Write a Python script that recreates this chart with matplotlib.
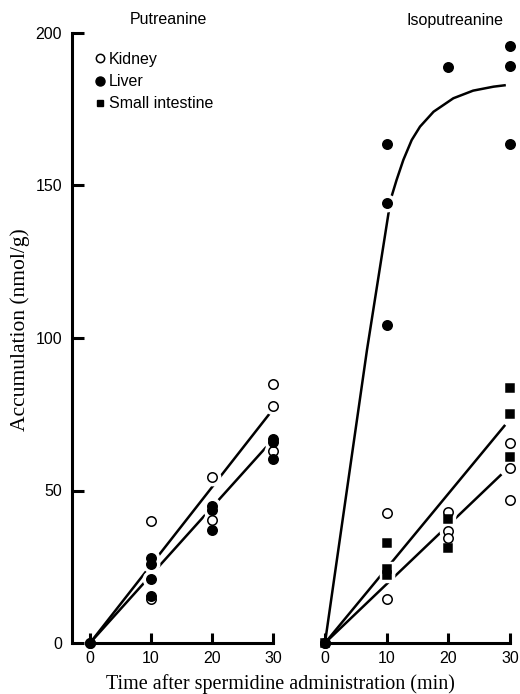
import matplotlib
matplotlib.use('Agg')
import matplotlib.pyplot as plt

# Putreanine panel
put_kidney_x = [0, 10, 10, 20, 20, 30, 30, 30]
put_kidney_y = [0, 40.1, 14.4, 54.3, 40.3, 84.9, 77.7, 63.0]
put_liver_x = [0, 10, 10, 10, 10, 20, 20, 20, 30, 30, 30]
put_liver_y = [0, 27.8, 25.9, 21.1, 15.4, 45.0, 43.6, 37.0, 67.0, 66.0, 60.3]
put_kidney_fit = ([0, 29.7], [0, 75.8])
put_liver_fit = ([0, 29.7], [0, 66.0])

# Isoputreanine panel
iso_kidney_x = [0, 10, 10, 20, 20, 20, 30, 30, 30]
iso_kidney_y = [0, 42.5, 14.3, 43.0, 36.7, 34.5, 65.5, 57.5, 46.9]
iso_si_x = [0, 10, 10, 10, 20, 20, 30, 30, 30]
iso_si_y = [0, 32.7, 24.3, 22.3, 40.5, 31.0, 83.5, 75.0, 61.0]
iso_liver_x = [0, 10, 10, 10, 20, 30, 30, 30]
iso_liver_y = [0, 163.5, 144.3, 104.3, 188.8, 195.7, 189.3, 163.5]
iso_kidney_fit = ([0, 28.6], [0, 55.3])
iso_si_fit = ([0, 29.2], [0, 71.5])
iso_liver_curve_x = [0, 6.8, 10.3, 10.7, 11.6, 12.7, 14.05, 15.4, 17.6, 20.8, 24.0, 27.3, 29.3]
iso_liver_curve_y = [0, 96, 141, 145.8, 151.8, 158.4, 164.9, 169.3, 174.2, 178.6, 181.1, 182.4, 182.9]

xticks = [0, 10, 20, 30]
yticks = [0, 50, 100, 150, 200]

sans = 'Liberation Sans'
serif = 'Liberation Serif'

fig = plt.figure(figsize=(5.2, 6.94), dpi=100)
W, H = 520.0, 694.0
y0, y1 = 643.0, 33.0
axL = fig.add_axes([71.7 / W, (H - y0) / H, (282 - 71.7) / W, (y0 - y1) / H])
axR = fig.add_axes([318.8 / W, (H - y0) / H, (516.3 - 318.8) / W, (y0 - y1) / H])

lw_axis = 2.2
lw_line = 1.8
ms_c = 6.8
ms_s = 5.5


def halo(ax, x, y, style, size):
    # white halo so the fitted lines look broken around the points
    ax.plot(x, y, linestyle='none', marker=style, ms=size + 5, mfc='white',
            mec='white', zorder=3, clip_on=False)


def draw(ax, x, y, style, size, filled):
    ax.plot(x, y, linestyle='none', marker=style, ms=size,
            mfc='black' if filled else 'white', mec='black', mew=1.1,
            zorder=4, clip_on=False)


# left panel
axL.plot(*put_kidney_fit, color='black', lw=lw_line, zorder=2, solid_capstyle='butt')
axL.plot(*put_liver_fit, color='black', lw=lw_line, zorder=2, solid_capstyle='butt')
halo(axL, put_kidney_x[1:], put_kidney_y[1:], 'o', ms_c)
halo(axL, put_liver_x[1:], put_liver_y[1:], 'o', ms_c)
draw(axL, put_kidney_x, put_kidney_y, 'o', ms_c, False)
draw(axL, put_liver_x, put_liver_y, 'o', ms_c, True)

# right panel
axR.plot(*iso_kidney_fit, color='black', lw=lw_line, zorder=2, solid_capstyle='butt')
axR.plot(*iso_si_fit, color='black', lw=lw_line, zorder=2, solid_capstyle='butt')
axR.plot(iso_liver_curve_x, iso_liver_curve_y, color='black', lw=lw_line, zorder=2,
         solid_capstyle='butt')
halo(axR, iso_kidney_x[1:], iso_kidney_y[1:], 'o', ms_c)
halo(axR, iso_si_x[1:], iso_si_y[1:], 's', ms_s)
halo(axR, iso_liver_x[1:], iso_liver_y[1:], 'o', ms_c)
draw(axR, iso_kidney_x, iso_kidney_y, 'o', ms_c, False)
draw(axR, iso_si_x, iso_si_y, 's', ms_s, True)
draw(axR, iso_liver_x, iso_liver_y, 'o', ms_c, True)

for ax in (axL, axR):
    ax.set_ylim(0, 200)
    ax.spines['top'].set_visible(False)
    ax.spines['right'].set_visible(False)
    ax.spines['bottom'].set_linewidth(lw_axis)
    ax.spines['bottom'].set_bounds(0, 30)
    ax.set_xticks(xticks)
    ax.tick_params(axis='x', direction='in', length=7, width=lw_axis, pad=6,
                   labelsize=11.5)
    for t in ax.get_xticklabels():
        t.set_fontfamily(sans)
    ax.set_facecolor('none')

axL.set_xlim(-3, 31.5)
axL.spines['left'].set_position(('data', -3))
axL.spines['left'].set_linewidth(lw_axis)
axL.spines['left'].set_bounds(0, 200)
axL.set_yticks(yticks)
axL.tick_params(axis='y', direction='in', length=8.5, width=lw_axis, pad=7,
                labelsize=11.5)
for t in axL.get_yticklabels():
    t.set_fontfamily(sans)

axR.set_xlim(-1, 31)
axR.spines['left'].set_visible(False)
axR.set_yticks([])

# legend
h1 = axL.plot([], [], linestyle='none', marker='o', ms=6, mfc='white', mec='black', mew=1.1)[0]
h2 = axL.plot([], [], linestyle='none', marker='o', ms=6.5, mfc='black', mec='black')[0]
h3 = axL.plot([], [], linestyle='none', marker='s', ms=5, mfc='black', mec='black')[0]
axL.legend([h1, h2, h3], ['Kidney', 'Liver', 'Small intestine'],
           loc='upper left', bbox_to_anchor=(87 / W, 1 - 44 / H),
           bbox_transform=fig.transFigure, frameon=False, borderpad=0,
           handlelength=0.6, handletextpad=0.25, labelspacing=0.45,
           prop={'family': sans, 'size': 11.5})

fig.text(168 / W, 1 - 20 / H, 'Putreanine', family=sans, fontsize=11.5,
         ha='center', va='center')
fig.text(455 / W, 1 - 21 / H, 'Isoputreanine', family=sans, fontsize=11.5,
         ha='center', va='center')

fig.text(280 / W, 1 - 684 / H, 'Time after spermidine administration (min)',
         family=serif, fontsize=14.5, ha='center', va='center')
fig.text(20 / W, 1 - 330 / H, 'Accumulation (nmol/g)', family=serif, fontsize=15.5,
         rotation=90, ha='center', va='center')

fig.savefig('out.png', dpi=100)
